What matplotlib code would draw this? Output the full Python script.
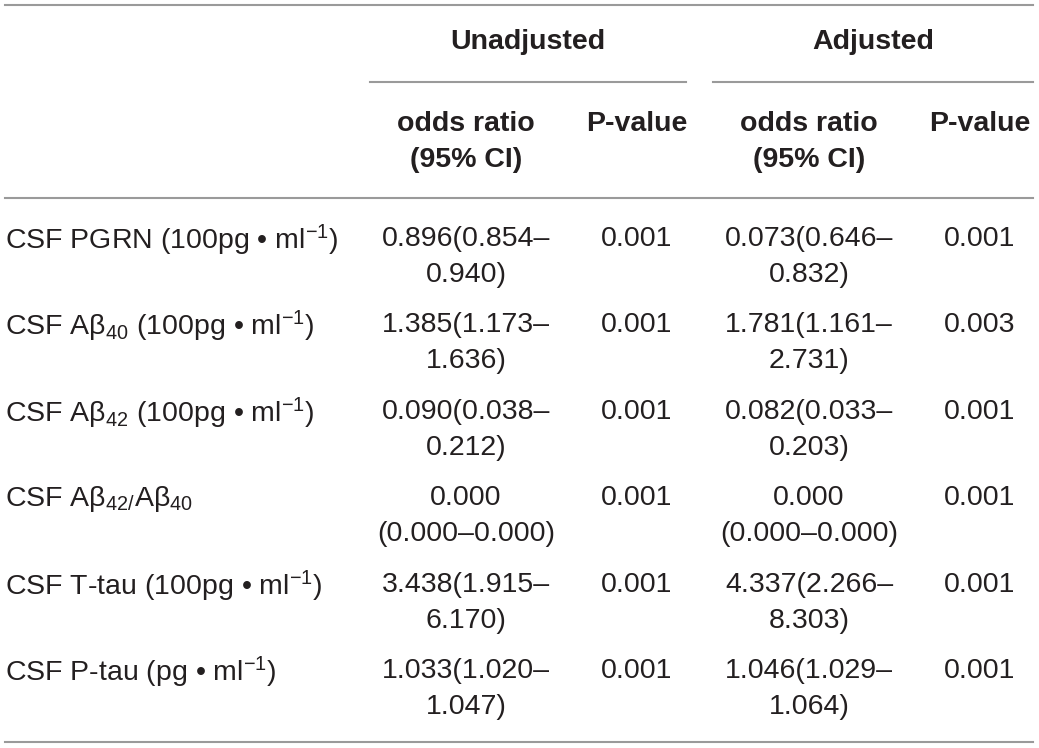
import matplotlib
matplotlib.use('Agg')
import matplotlib.pyplot as plt

plt.rcParams['font.family'] = ['Liberation Sans', 'DejaVu Sans']
plt.rcParams['mathtext.fontset'] = 'custom'
plt.rcParams['mathtext.rm'] = 'Liberation Sans'
plt.rcParams['mathtext.it'] = 'Liberation Sans'
plt.rcParams['mathtext.bf'] = 'Liberation Sans:bold'

# данные таблицы
labels = [
    'CSF PGRN (100pg • ml$^{-1}$)',
    'CSF Aβ$_{40}$ (100pg • ml$^{-1}$)',
    'CSF Aβ$_{42}$ (100pg • ml$^{-1}$)',
    'CSF Aβ$_{42/}$Aβ$_{40}$',
    'CSF T-tau (100pg • ml$^{-1}$)',
    'CSF P-tau (pg • ml$^{-1}$)',
]
unadj_or = [0.896, 1.385, 0.090, 0.000, 3.438, 1.033]
unadj_lo = [0.854, 1.173, 0.038, 0.000, 1.915, 1.020]
unadj_hi = [0.940, 1.636, 0.212, 0.000, 6.170, 1.047]
unadj_p = [0.001, 0.001, 0.001, 0.001, 0.001, 0.001]
adj_or = [0.073, 1.781, 0.082, 0.000, 4.337, 1.046]
adj_lo = [0.646, 1.161, 0.033, 0.000, 2.266, 1.029]
adj_hi = [0.832, 2.731, 0.203, 0.000, 8.303, 1.064]
adj_p = [0.001, 0.003, 0.001, 0.001, 0.001, 0.001]
break_after_or = [False, False, False, True, False, False]

groups = ['Unadjusted', 'Adjusted']
subheads = [['odds ratio', '(95% CI)'], ['P-value']]

fs = 20.5
col = '#231f20'
line_col = '#9a9a9a'


def or_lines(o, lo, hi, brk):
    if brk:
        return [f'{o:.3f}', f'({lo:.3f}–{hi:.3f})']
    return [f'{o:.3f}({lo:.3f}–', f'{hi:.3f})']


fig = plt.figure(figsize=(10.39, 7.48), dpi=100)
ax = fig.add_axes([0, 0, 1, 1])
ax.set_xlim(0, 1039)
ax.set_ylim(748, 0)
ax.axis('off')

# столбцы: подпись, OR, P, OR, P
x_or = [466, 809]
x_p = [637, 980]
x_grp = [528, 873]

# линии
lw = 1.5
ax.plot([5, 1033], [5, 5], color=line_col, lw=lw)
ax.plot([370, 686], [82, 82], color=line_col, lw=lw)
ax.plot([713, 1033], [82, 82], color=line_col, lw=lw)
ax.plot([5, 1033], [198, 198], color=line_col, lw=lw)
ax.plot([5, 1033], [742, 742], color=line_col, lw=lw)

# заголовки
for g, xg in zip(groups, x_grp):
    ax.text(xg, 42, g, ha='center', va='center', fontsize=fs, fontweight='bold', color=col)
for k in range(2):
    for j, s in enumerate(subheads[0]):
        ax.text(x_or[k], 124 + 36 * j, s, ha='center', va='center', fontsize=fs,
                fontweight='bold', color=col)
    ax.text(x_p[k], 124, subheads[1][0], ha='center', va='center', fontsize=fs,
            fontweight='bold', color=col)

# строки
y0 = 236
dy = 86.4
for i, lab in enumerate(labels):
    y = y0 + i * dy
    ax.text(5, y, lab, ha='left', va='center_baseline', fontsize=fs, color=col)
    for k, (o, lo, hi, p) in enumerate([(unadj_or[i], unadj_lo[i], unadj_hi[i], unadj_p[i]),
                                         (adj_or[i], adj_lo[i], adj_hi[i], adj_p[i])]):
        for j, s in enumerate(or_lines(o, lo, hi, break_after_or[i])):
            ax.text(x_or[k], y + 36 * j, s, ha='center', va='center_baseline', fontsize=fs, color=col)
        ax.text(x_p[k], y, f'{p:.3f}', ha='center', va='center_baseline', fontsize=fs, color=col)

plt.savefig('out.png', dpi=100)
